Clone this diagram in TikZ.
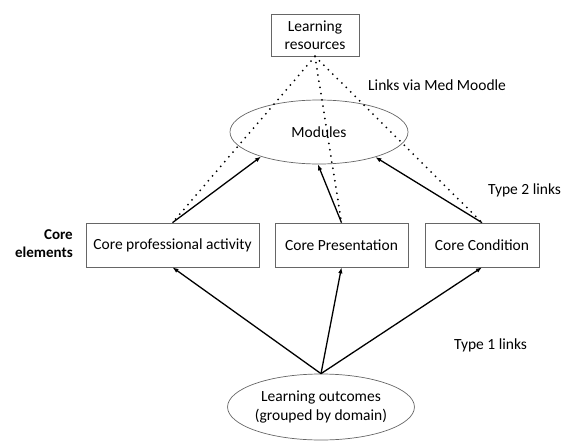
\documentclass[tikz,border=0pt]{standalone}
\usepackage{fontspec}
\setmainfont{Carlito}
\usetikzlibrary{arrows.meta,shapes.geometric}
\begin{document}
\begin{tikzpicture}[x=1pt,y=-1pt,
  boxnode/.style={draw=black!60,line width=0.7pt,rectangle,inner sep=0pt,font=\fontsize{15.5}{18.5}\selectfont,align=center},
  ellnode/.style={draw=black!60,line width=0.7pt,ellipse,inner sep=0pt,font=\fontsize{15.5}{19.5}\selectfont,align=center},
  solidarrow/.style={line width=1.3pt,-{Latex[length=6pt,width=4.5pt]}},
  dotline/.style={line width=2pt,line cap=round,dash pattern=on 0pt off 6.3pt},
  lbl/.style={font=\fontsize{15.5}{18.5}\selectfont,inner sep=0pt,anchor=west}]
\useasboundingbox (0,0) rectangle (571,442);
\node[boxnode,minimum width=88pt,minimum height=42pt] (res) at (315,35) {Learning\\resources};
\node[ellnode,minimum width=178pt,minimum height=64pt] (mod) at (319,132) {Modules};
\node[boxnode,minimum width=173pt,minimum height=44pt] (cpa) at (172.5,245) {Core professional activity};
\node[boxnode,minimum width=133pt,minimum height=44pt] (cp) at (341.5,245) {Core Presentation};
\node[boxnode,minimum width=114pt,minimum height=44pt] (cc) at (482,245) {Core Condition};
\node[ellnode,minimum width=178pt,minimum height=66pt] (lo) at (321,407) {Learning outcomes\\(grouped by domain)};
\node[font=\bfseries\fontsize{15}{18}\selectfont,align=right,anchor=east,inner sep=0pt] (ce) at (73,244) {Core\\elements};
\node[lbl] (l1) at (368,85) {Links via Med Moodle};
\node[lbl] (l2) at (488,190) {Type 2 links};
\node[lbl] (l3) at (454,345) {Type 1 links};
% dotted links
\draw[dotline] (res.south) -- (cpa.north);
\draw[dotline] (res.south) -- (cp.north);
\draw[dotline] (res.south) -- (cc.north);
% type 2 links
\draw[solidarrow] (cpa.north) -- (mod.203);
\draw[solidarrow] (cp.north) -- (mod.268);
\draw[solidarrow] (cc.north) -- (mod.336);
% type 1 links
\draw[solidarrow] (lo.north) -- (cpa.south);
\draw[solidarrow] (lo.north) -- (cp.south);
\draw[solidarrow] (lo.north) -- (cc.south);
\end{tikzpicture}
\end{document}
